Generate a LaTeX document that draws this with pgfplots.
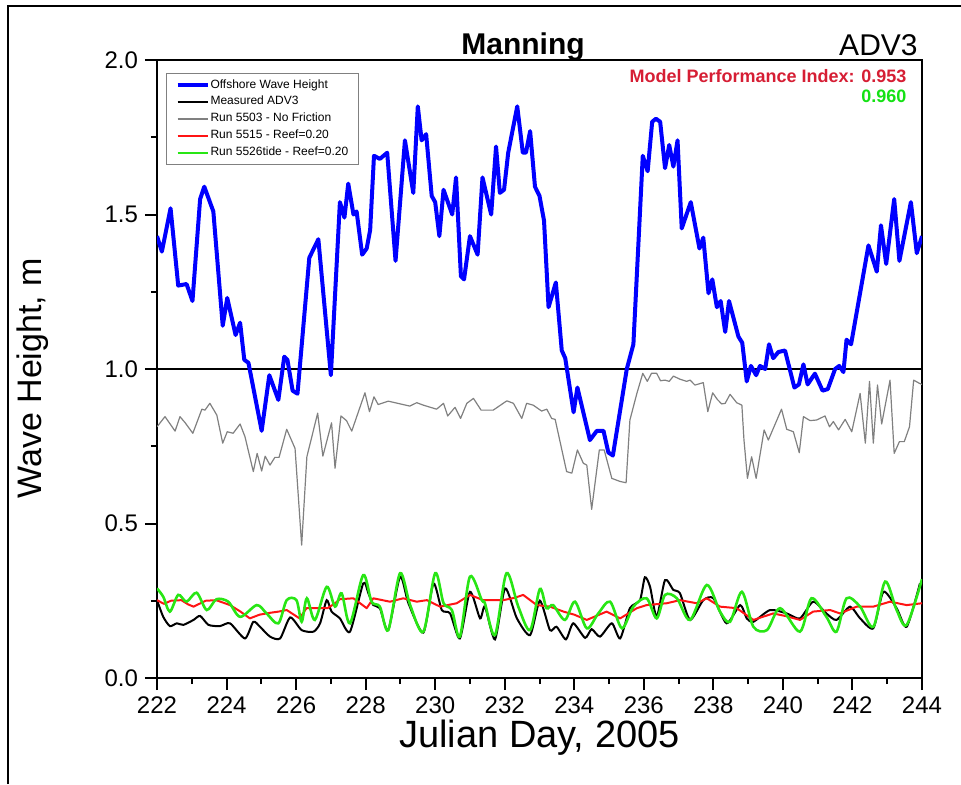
\documentclass[border=0pt]{standalone}
\usepackage{fontspec}
\setmainfont{Liberation Sans}
\usepackage{pgfplots}
\pgfplotsset{compat=1.18}

\definecolor{mpired}{RGB}{214,30,52}
\definecolor{mpigreen}{RGB}{20,225,20}
\definecolor{runred}{RGB}{255,20,20}
\definecolor{rungreen}{RGB}{40,230,20}

\begin{document}
\begin{tikzpicture}
% page extent and outer frame (axis box south west at origin)
\useasboundingbox (-78.5pt,-53pt) rectangle (402pt,339pt);
\draw[line width=0.9pt] (-74.5pt,-53pt) -- (-74.5pt,336pt) -- (402pt,336pt);
\begin{axis}[
  name=ax,
  scale only axis,
  width=382.5pt, height=309pt,
  xmin=222, xmax=244, ymin=0, ymax=2,
  xtick={222,224,...,244},
  ytick={0,0.5,1,1.5,2},
  minor x tick num=1, minor y tick num=1,
  tick align=outside,
  xtick pos=bottom, ytick pos=left,
  major tick length=6pt, minor tick length=3pt,
  every tick/.style={black, line width=1pt},
  axis line style={line width=1.2pt},
  /pgf/number format/assume math mode=true,
  yticklabel style={/pgf/number format/.cd, fixed, fixed zerofill, precision=1},
  xticklabel style={/pgf/number format/.cd, set thousands separator={}},
  ticklabel style={font=\fontsize{12}{14}\selectfont},
  xlabel={Julian Day, 2005},
  ylabel={Wave Height, m},
  xlabel style={font=\fontsize{19}{21}\selectfont, at={(axis description cs:0.5,-0.113)}, anchor=base},
  ylabel style={font=\fontsize{17}{19}\selectfont, at={(axis description cs:-0.163,0.485)}, anchor=center},
  legend style={at={(rel axis cs:0.0118,0.9785)}, anchor=north west,
    draw=gray, line width=0.5pt, font=\fontsize{6}{7}\selectfont,
    inner xsep=4.5pt, inner ysep=1.5pt,
    nodes={inner xsep=0.5pt, inner ysep=1.3pt}},
  legend cell align=left,
  legend image code/.code={\draw[#1] (0pt,0pt) -- (15pt,0pt);},
  clip=true,
]
% reference level at 1 m
\addplot[black, line width=0.6pt, forget plot] coordinates {(222,1) (244,1)};

% offshore wave height
\addplot[blue, line width=2pt, line join=round] coordinates {
(222.00,1.43) (222.14,1.38) (222.39,1.52) (222.61,1.27) (222.85,1.275) (223.02,1.22)
(223.24,1.55) (223.36,1.59) (223.62,1.51) (223.89,1.14) (224.02,1.23) (224.26,1.11)
(224.39,1.15) (224.51,1.03) (224.63,1.02) (225.01,0.80) (225.23,0.98) (225.49,0.90)
(225.66,1.04) (225.75,1.03) (225.90,0.93) (226.04,0.92) (226.38,1.36) (226.64,1.42)
(227.00,0.98) (227.26,1.54) (227.39,1.49) (227.50,1.60) (227.65,1.50) (227.74,1.51)
(227.90,1.37) (228.03,1.39) (228.13,1.45) (228.24,1.69) (228.41,1.68) (228.62,1.70)
(228.86,1.35) (229.13,1.74) (229.37,1.57) (229.50,1.85) (229.61,1.74) (229.74,1.76)
(229.90,1.56) (230.00,1.54) (230.12,1.43) (230.24,1.58) (230.49,1.50) (230.60,1.62)
(230.74,1.30) (230.83,1.29) (231.00,1.43) (231.22,1.37) (231.36,1.62) (231.61,1.50)
(231.75,1.72) (231.86,1.57) (231.98,1.58) (232.10,1.70) (232.36,1.85) (232.52,1.70)
(232.61,1.70) (232.73,1.77) (232.87,1.59) (233.00,1.56) (233.13,1.48) (233.26,1.20)
(233.47,1.28) (233.64,1.06) (233.74,1.035) (233.98,0.86) (234.09,0.94) (234.45,0.77)
(234.65,0.80) (234.84,0.80) (234.98,0.73) (235.11,0.72) (235.51,1.00) (235.70,1.08)
(235.97,1.69) (236.11,1.64) (236.24,1.80) (236.35,1.81) (236.47,1.80) (236.61,1.65)
(236.73,1.725) (236.85,1.655) (236.97,1.74) (237.09,1.455) (237.35,1.54) (237.60,1.39)
(237.71,1.425) (237.86,1.245) (237.97,1.29) (238.10,1.20) (238.21,1.22) (238.34,1.12)
(238.45,1.22) (238.72,1.105) (238.83,1.085) (238.96,0.96) (239.08,1.01) (239.23,0.98)
(239.34,1.01) (239.49,1.00) (239.60,1.08) (239.72,1.035) (239.87,1.055) (240.06,1.06)
(240.33,0.94) (240.46,0.95) (240.59,1.015) (240.71,0.95) (240.92,0.985) (241.14,0.93)
(241.29,0.935) (241.50,1.00) (241.62,1.01) (241.74,0.99) (241.83,1.095) (241.96,1.08)
(242.46,1.40) (242.70,1.315) (242.82,1.465) (242.97,1.34) (243.20,1.55) (243.35,1.35)
(243.68,1.54) (243.85,1.375) (244.00,1.43)
};
\addlegendentry{Offshore Wave Height}

% measured at ADV3
\addplot[black, line width=1pt, smooth, tension=0.4] coordinates {
(222.00,0.252) (222.18,0.198) (222.37,0.168) (222.57,0.177) (222.76,0.172) (223.05,0.188)
(223.24,0.201) (223.48,0.172) (223.81,0.168) (224.10,0.177) (224.53,0.128) (224.77,0.182)
(224.96,0.166) (225.25,0.134) (225.54,0.128) (225.83,0.196) (226.16,0.155) (226.50,0.150)
(226.69,0.177) (226.88,0.252) (227.02,0.215) (227.26,0.193) (227.55,0.150) (227.93,0.306)
(228.08,0.274) (228.22,0.236) (228.41,0.226) (228.65,0.155) (228.99,0.328) (229.23,0.242)
(229.66,0.147) (229.95,0.306) (230.19,0.220) (230.43,0.209) (230.71,0.128) (231.00,0.279)
(231.29,0.193) (231.43,0.231) (231.72,0.125) (232.01,0.290) (232.35,0.193) (232.73,0.139)
(233.01,0.250) (233.30,0.155) (233.49,0.166) (233.76,0.125) (233.97,0.177) (234.31,0.130)
(234.50,0.158) (234.74,0.134) (235.08,0.177) (235.32,0.128) (235.60,0.226) (235.89,0.252)
(236.03,0.326) (236.18,0.295) (236.37,0.198) (236.61,0.317) (236.85,0.285) (237.04,0.274)
(237.33,0.188) (237.71,0.252) (238.00,0.258) (238.38,0.177) (238.77,0.236) (238.96,0.193)
(239.15,0.182) (239.63,0.220) (240.11,0.209) (240.49,0.193) (240.87,0.247) (241.25,0.209)
(241.54,0.188) (241.93,0.231) (242.22,0.193) (242.60,0.161) (242.89,0.279) (243.27,0.226)
(243.56,0.166) (243.94,0.306)
};
\addlegendentry{Measured ADV3}

% run without friction
\addplot[gray, line width=0.6pt, line join=round] coordinates {
(222.00,0.813) (222.23,0.846) (222.52,0.799) (222.66,0.846) (222.81,0.826) (223.03,0.792)
(223.29,0.870) (223.38,0.867) (223.52,0.889) (223.72,0.851) (223.89,0.760) (224.02,0.797)
(224.19,0.792) (224.39,0.822) (224.53,0.781) (224.77,0.668) (224.88,0.727) (225.01,0.670)
(225.11,0.718) (225.25,0.689) (225.39,0.714) (225.51,0.714) (225.73,0.805) (225.97,0.743)
(226.16,0.430) (226.31,0.716) (226.62,0.857) (226.77,0.718) (227.02,0.826) (227.12,0.679)
(227.29,0.848) (227.45,0.833) (227.60,0.799) (227.98,0.923) (228.11,0.862) (228.24,0.910)
(228.36,0.885) (228.65,0.896) (229.27,0.880) (229.47,0.891) (229.66,0.883) (230.04,0.870)
(230.24,0.889) (230.36,0.848) (230.57,0.876) (230.73,0.840) (230.91,0.889) (231.10,0.905)
(231.32,0.867) (231.67,0.867) (232.06,0.897) (232.25,0.889) (232.49,0.840) (232.63,0.889)
(232.82,0.883) (233.06,0.864) (233.21,0.870) (233.35,0.840) (233.45,0.837) (233.78,0.668)
(233.93,0.663) (234.09,0.738) (234.26,0.695) (234.36,0.689) (234.50,0.546) (234.72,0.738)
(234.86,0.738) (235.08,0.646) (235.32,0.636) (235.49,0.632) (235.60,0.835) (235.80,0.921)
(235.97,0.986) (236.10,0.960) (236.22,0.986) (236.37,0.986) (236.48,0.962) (236.61,0.964)
(236.73,0.960) (236.85,0.977) (237.04,0.967) (237.23,0.960) (237.33,0.964) (237.47,0.948)
(237.71,0.956) (237.84,0.862) (237.98,0.923) (238.11,0.902) (238.24,0.887) (238.34,0.889)
(238.48,0.918) (238.67,0.891) (238.82,0.883) (238.88,0.770) (238.98,0.646) (239.10,0.716)
(239.23,0.646) (239.46,0.803) (239.58,0.770) (239.96,0.870) (240.11,0.805) (240.30,0.797)
(240.47,0.729) (240.59,0.846) (240.78,0.833) (240.97,0.835) (241.21,0.848) (241.34,0.813)
(241.45,0.830) (241.60,0.803) (241.79,0.837) (241.98,0.797) (242.22,0.921) (242.37,0.760)
(242.49,0.960) (242.60,0.760) (242.72,0.948) (242.84,0.822) (243.08,0.964) (243.20,0.727)
(243.35,0.765) (243.49,0.765) (243.64,0.813) (243.76,0.964) (243.92,0.954) (244.00,0.950)
};
\addlegendentry{Run 5503 - No Friction}

% run 5515
\addplot[runred, line width=1pt, line join=round] coordinates {
(222.00,0.252) (222.20,0.240) (222.40,0.250) (222.70,0.252) (222.90,0.238) (223.05,0.231)
(223.40,0.250) (223.70,0.252) (224.10,0.236) (224.40,0.215) (224.67,0.193) (224.95,0.205)
(225.25,0.211) (225.50,0.215) (225.73,0.220) (226.10,0.193) (226.30,0.226) (226.90,0.226)
(227.10,0.240) (227.26,0.255) (227.65,0.258) (228.03,0.226) (228.22,0.258) (228.70,0.247)
(229.08,0.258) (229.47,0.247) (229.76,0.252) (230.14,0.231) (230.62,0.242) (231.00,0.269)
(231.38,0.252) (231.96,0.252) (232.30,0.260) (232.53,0.269) (232.92,0.236) (233.30,0.231)
(233.69,0.215) (234.00,0.205) (234.36,0.188) (234.93,0.215) (235.32,0.193) (235.80,0.226)
(236.08,0.236) (236.66,0.242) (237.04,0.252) (237.52,0.242) (237.81,0.258) (238.19,0.231)
(238.67,0.226) (239.15,0.188) (239.72,0.209) (240.10,0.200) (240.49,0.188) (240.87,0.215)
(241.36,0.220) (241.64,0.209) (242.12,0.231) (242.60,0.231) (243.08,0.247) (243.56,0.236)
(244.00,0.242)
};
\addlegendentry{Run 5515 - Reef=0.20}

% run 5526 with tide
\addplot[rungreen, line width=1.3pt, smooth, tension=0.5] coordinates {
(222.00,0.290) (222.18,0.263) (222.37,0.215) (222.61,0.269) (222.85,0.247) (223.14,0.276)
(223.43,0.220) (223.71,0.255) (224.05,0.247) (224.39,0.198) (224.87,0.236) (225.15,0.209)
(225.49,0.177) (225.73,0.252) (226.01,0.252) (226.16,0.182) (226.31,0.258) (226.54,0.188)
(226.88,0.295) (227.12,0.231) (227.31,0.274) (227.55,0.177) (227.93,0.333) (228.17,0.247)
(228.41,0.231) (228.65,0.155) (228.99,0.339) (229.28,0.236) (229.66,0.150) (230.00,0.339)
(230.24,0.242) (230.48,0.220) (230.71,0.134) (231.00,0.328) (231.34,0.252) (231.43,0.242)
(231.72,0.139) (232.05,0.339) (232.39,0.231) (232.73,0.155) (233.01,0.288) (233.20,0.226)
(233.39,0.236) (233.73,0.188) (234.02,0.247) (234.36,0.161) (234.69,0.209) (235.03,0.247)
(235.37,0.161) (235.70,0.231) (236.08,0.258) (236.37,0.193) (236.61,0.269) (236.95,0.258)
(237.33,0.188) (237.81,0.301) (238.19,0.215) (238.48,0.182) (238.82,0.279) (239.15,0.166)
(239.54,0.155) (239.92,0.226) (240.49,0.150) (240.82,0.258) (241.25,0.198) (241.54,0.150)
(241.83,0.258) (242.22,0.231) (242.60,0.166) (242.94,0.312) (243.27,0.220) (243.56,0.172)
(244.00,0.320)
};
\addlegendentry{Run 5526tide - Reef=0.20}

% performance index annotations
\node[anchor=base east, font=\fontsize{9}{10}\selectfont\bfseries, text=mpired, inner sep=0pt]
  at (axis description cs:0.980,0.9644) {Model Performance Index: 0.953};
\node[anchor=base east, font=\fontsize{9}{10}\selectfont\bfseries, text=mpigreen, inner sep=0pt]
  at (axis description cs:0.980,0.932) {0.960};
\end{axis}
% titles above the plot frame
\node[anchor=base, font=\fontsize{15}{17}\selectfont\bfseries, inner sep=0pt]
  at ([xshift=-8.25pt,yshift=3pt]ax.north) {Manning};
\node[anchor=base east, font=\fontsize{15}{17}\selectfont, inner sep=0pt]
  at ([xshift=-2pt,yshift=2.5pt]ax.north east) {ADV3};
\end{tikzpicture}
\end{document}
